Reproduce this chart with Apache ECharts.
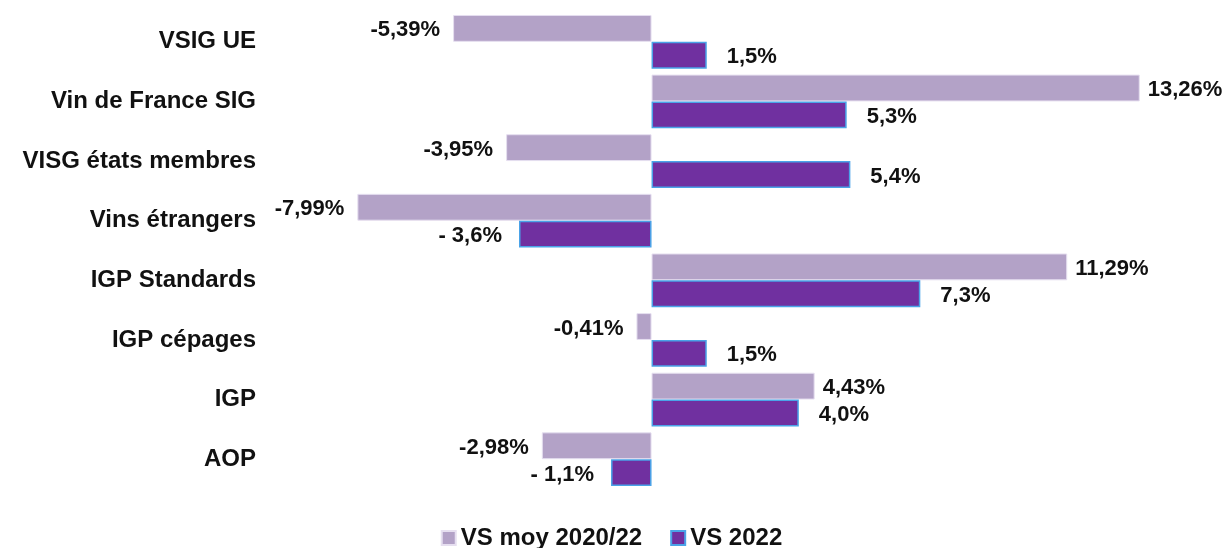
<!DOCTYPE html>
<html>
<head>
<meta charset="utf-8">
<script src="https://cdn.jsdelivr.net/npm/echarts@6/dist/echarts.min.js"></script>
<style>
  html, body { margin: 0; padding: 0; background: #fff; }
  #chart { width: 1223px; height: 548px; }
</style>
</head>
<body>
<div id="chart"></div>
<script>
  // catégories (haut -> bas)
  var categories = ['VSIG UE', 'Vin de France SIG', 'VISG états membres', 'Vins étrangers',
    'IGP Standards', 'IGP cépages', 'IGP', 'AOP'];
  var seriesNames = ['VS moy 2020/22', 'VS 2022'];
  var vsMoy = [-5.39, 13.26, -3.95, -7.99, 11.29, -0.41, 4.43, -2.98];
  var vs2022 = [1.5, 5.3, 5.4, -3.6, 7.3, 1.5, 4.0, -1.1];

  var FONT = '"Liberation Sans", Arial, sans-serif';

  function fmtMoy(v) {
    return v.toFixed(2).replace('.', ',') + '%';
  }
  function fmt2022(v) {
    var s = Math.abs(v).toFixed(1).replace('.', ',') + '%';
    return v < 0 ? '- ' + s : s;
  }

  // label à gauche pour les valeurs négatives, à droite sinon
  function buildData(values, formatter, distPos, distNeg) {
    return values.map(function (v) {
      return {
        value: v,
        label: {
          position: v < 0 ? 'left' : 'right',
          distance: v < 0 ? distNeg : distPos,
          formatter: formatter(v)
        }
      };
    });
  }

  var chart = echarts.init(document.getElementById('chart'));

  var labelStyle = {
    show: true,
    color: '#111',
    fontFamily: FONT,
    fontWeight: 'bold',
    fontSize: 22,
    offset: [0, 2]
  };

  var option = {
    animation: false,
    textStyle: { fontFamily: FONT },
    grid: { left: 357, right: 56, top: 12, bottom: 59, containLabel: false },
    legend: {
      data: seriesNames,
      top: 521,
      left: 'center',
      itemWidth: 14,
      itemHeight: 14,
      itemGap: 28,
      icon: 'rect',
      textStyle: { fontSize: 24, fontWeight: 'bold', color: '#111', fontFamily: FONT }
    },
    xAxis: {
      type: 'value',
      min: -8,
      max: 14,
      show: false
    },
    yAxis: {
      type: 'category',
      data: categories,
      inverse: true,
      position: 'left',
      axisLine: { show: false, onZero: false },
      axisTick: { show: false },
      splitLine: { show: false },
      axisLabel: {
        margin: 101,
        color: '#111',
        fontFamily: FONT,
        fontWeight: 'bold',
        fontSize: 24
      }
    },
    series: [
      {
        name: seriesNames[0],
        type: 'bar',
        barGap: '0%',
        barCategoryGap: '10%',
        itemStyle: { color: '#b3a2c7', borderColor: '#e6dff0', borderWidth: 1 },
        label: labelStyle,
        data: buildData(vsMoy, fmtMoy, 8, 13)
      },
      {
        name: seriesNames[1],
        type: 'bar',
        barGap: '0%',
        barCategoryGap: '10%',
        itemStyle: { color: '#7030a0', borderColor: '#4aa3e8', borderWidth: 1.5 },
        label: labelStyle,
        data: buildData(vs2022, fmt2022, 20, 17)
      }
    ]
  };

  chart.setOption(option);
  window.addEventListener('resize', function () {
    chart.resize();
  });
</script>
</body>
</html>
